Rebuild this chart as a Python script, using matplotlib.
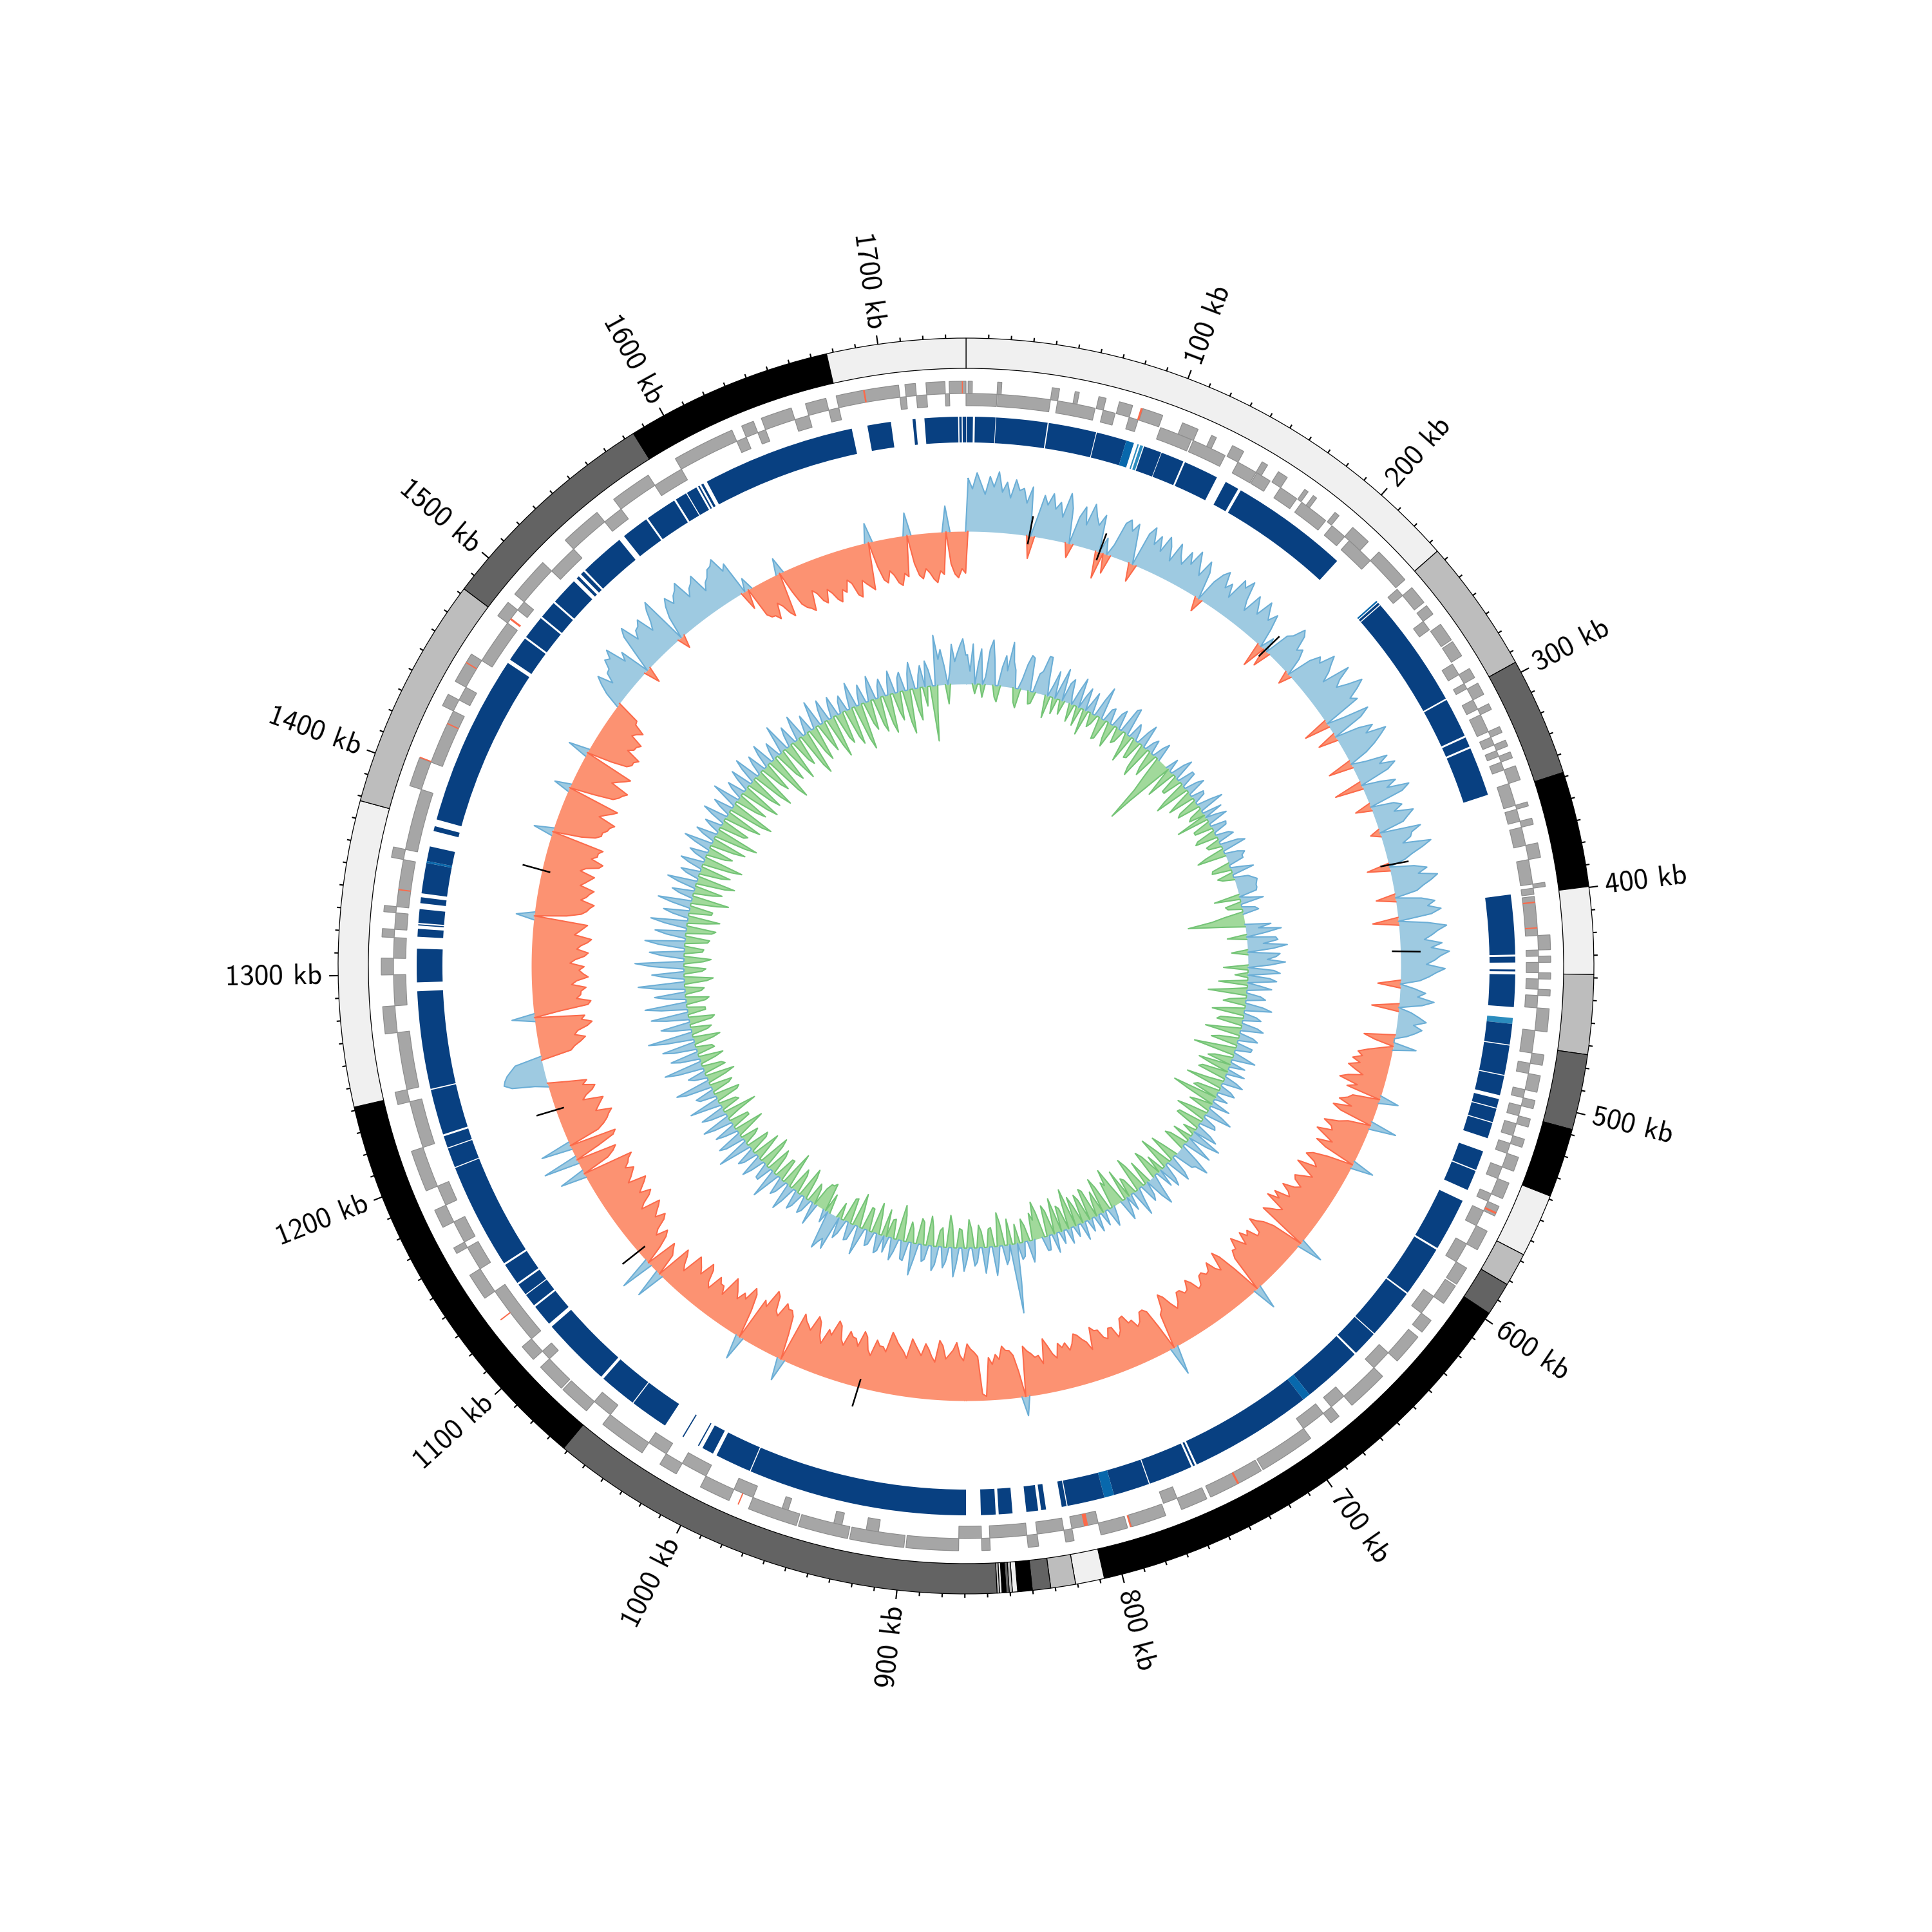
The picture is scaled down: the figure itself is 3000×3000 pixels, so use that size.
import numpy as np
import matplotlib.pyplot as plt

GENOME_KB = 1739

# contig ideogram (kb boundaries), colours cycle light -> black
SEG_BOUNDS = [0, 235, 295, 348, 399.6, 438.5, 474, 507.7, 538.6, 567, 582, 597,
              808, 820.9, 832, 840.2, 846.7, 849, 850.4, 851.8, 853.6, 854.7,
              855.8, 1062, 1241.5, 1378, 1482.6, 1584.5, 1677, 1739]
SEG_COLORS = ["#f0f0f0", "#bdbdbd", "#636363", "#000000"]

# CDS runs on forward (outer row) and reverse (inner row) strands, kb
FWD_GENES = [(1, 3), (15, 17), (41, 44.5), (52, 54), (63.5, 67), (73.5, 80), (85, 95),
             (105, 113), (120, 122.5), (131, 137), (147, 150), (156, 161), (171, 173),
             (176, 178), (189, 191.5), (200, 210), (217, 235), (240, 249), (251, 256),
             (262, 271), (272, 280), (287, 292), (295, 301), (306, 309), (318, 321),
             (325, 328), (331, 334), (338, 345), (356, 358), (364, 367), (376, 383),
             (395, 397), (420, 427), (430, 433), (438, 441), (446, 449), (455, 466),
             (477, 482), (487, 495), (499, 503), (508, 512), (518, 522), (527, 534),
             (540, 548), (552, 557), (565, 575), (585, 594), (595, 605), (615, 622),
             (625, 640), (650, 670), (678, 683), (695, 722), (723, 750), (752, 765),
             (773, 790), (792, 805), (818, 822), (835, 840), (858, 862), (873, 898),
             (899, 925), (926, 950), (951, 975), (985, 1000), (1013, 1022), (1032, 1055),
             (1065, 1080), (1081, 1095), (1100, 1108), (1137, 1150), (1162, 1165),
             (1176, 1185), (1195, 1215), (1238, 1244), (1272, 1285), (1300, 1308),
             (1318, 1322), (1330, 1333), (1356, 1361), (1391, 1405), (1432, 1438),
             (1445, 1460), (1482, 1490), (1495, 1515), (1530, 1550), (1560, 1580),
             (1595, 1625), (1630, 1636), (1640, 1655), (1662, 1672), (1677, 1707),
             (1710, 1715), (1720, 1729), (1731, 1739)]
REV_GENES = [(0, 15), (15.5, 41), (44.5, 63), (67, 73), (80, 84.5), (96, 112), (113, 130),
             (137, 147), (147.5, 155), (161, 170.5), (173.5, 188), (192, 200), (203, 217),
             (236, 240), (256, 261), (281, 287), (292, 294.8), (301, 306), (309, 318),
             (321, 325), (328, 331), (334, 338), (345, 356), (358, 364), (367, 376),
             (383, 395), (397, 400), (401, 420), (427, 430), (433, 438), (441, 446),
             (449, 455), (466, 477), (482, 487), (495, 499), (503, 508), (512, 518),
             (522, 527), (534, 540), (548, 552), (557, 565), (575, 585), (605, 615),
             (640, 650), (670, 678), (683, 695), (765, 772), (805, 818), (822, 835),
             (840, 858), (862, 873), (912, 918), (930, 934), (957, 960), (975, 985),
             (1000, 1013), (1022, 1032), (1055, 1065), (1095, 1100), (1108, 1137),
             (1150, 1162), (1165, 1176), (1185, 1195), (1215, 1238), (1244, 1272),
             (1285, 1300), (1308, 1318), (1322, 1330), (1333, 1356), (1361, 1391),
             (1405, 1432), (1438, 1445), (1460, 1482), (1490, 1495), (1515, 1530),
             (1550, 1560), (1580, 1595), (1625, 1630), (1636, 1640), (1655, 1662),
             (1672, 1677), (1707, 1710), (1715, 1720), (1729, 1731)]
# tRNA / rRNA features: (start kb, end kb, strand)
RNA_GENES = [(84, 85, 1), (403.5, 404.2, -1), (416, 416.6, -1), (555, 556, 1),
             (735, 736, 1), (790, 790.8, 1), (810, 812, -1), (980, 980.6, 1),
             (1124, 1124.6, 1), (1341, 1341.6, -1), (1405, 1405.6, 1),
             (1425, 1425.6, -1), (1455, 1455.6, 1), (1484, 1485, -1),
             (1690, 1690.8, 1), (1737, 1737.5, 1)]

# homology blocks: (start kb, end kb, shade index)
HIT_BLOCKS = [(0.3, 3.5, 0), (4.5, 14.9, 0), (15.2, 41.3, 0), (41.9, 66.2, 0),
              (66.6, 82, 0), (82, 86, 1), (87.9, 88.6, 2), (89.4, 90.9, 2),
              (91.4, 100.5, 0), (100.8, 112.6, 0), (113.5, 131.3, 0), (136.3, 143.5, 0),
              (145, 205.3, 0), (233.5, 234.3, 1), (234.8, 236, 0), (236.5, 294, 0),
              (294.8, 315, 0), (316, 321, 0), (322, 347, 0),
              (398.6, 429, 0), (430, 433, 0), (436.5, 437.5, 0), (439, 455.5, 0),
              (461, 464, 2), (464, 474.5, 0), (475, 490, 0), (490.5, 500.5, 0),
              (502.5, 507, 0), (507.5, 514.5, 0), (515, 523, 0), (530, 540, 0),
              (540.6, 551, 0), (557, 584, 0), (585, 611, 0), (611.8, 637.5, 0),
              (638, 651, 0), (652, 682.5, 0), (682.5, 686.5, 1), (686.5, 749.5, 0),
              (750.5, 751.5, 0), (752.5, 775, 0), (775.5, 794, 0), (794, 799, 1),
              (799, 818, 0), (818.5, 821, 0), (829, 831.5, 0), (833, 839, 0),
              (846, 853, 0), (854.5, 862, 0),
              (869.5, 981, 0), (981.5, 1000, 0), (1002, 1008, 0), (1010, 1010.6, 0),
              (1019, 1019.6, 0), (1030, 1049.5, 0), (1050, 1069, 0), (1070.5, 1106, 0),
              (1108, 1119, 0), (1120, 1126.5, 0), (1127, 1133, 0), (1134, 1145, 0),
              (1146, 1200, 0), (1200.5, 1210.5, 0), (1211, 1217, 0), (1218, 1241.2, 0),
              (1241.8, 1291.5, 0), (1296, 1313, 0), (1319, 1323, 0), (1324.7, 1325.3, 0),
              (1326, 1333, 0), (1336, 1339, 0), (1341, 1356.5, 0), (1356.5, 1357.5, 1),
              (1357.5, 1365, 0), (1373, 1375.5, 0), (1379, 1466, 0), (1468, 1481, 0),
              (1482, 1494, 0), (1495, 1504, 0), (1505, 1519, 0), (1521, 1522.5, 0),
              (1524, 1526, 0), (1527, 1550, 0), (1553, 1567, 0), (1568, 1584, 0),
              (1585, 1591, 0), (1591.5, 1597, 0), (1598, 1598.8, 0), (1599.8, 1601, 0),
              (1603, 1681, 0), (1689, 1701, 0), (1712, 1713.5, 0), (1718, 1735, 0),
              (1735.6, 1736.8, 0), (1737.3, 1739, 0)]
HIT_COLORS = ["#084081", "#0868ac", "#2b8cbe"]

# GC skew in 2.5 kb windows (x1000)
SKEW = [82, 66, 91, 74, 58, 86, 70, 94, 63, 79, 55, 84, 68, 72, 50, 76, -35, 30, 66, 52,
        71, 48, 60, 38, 77, 55, -22, 44, 62, 35, 70, 52, 40, 58, -42, 25, -30, 18, 56, 64,
        48, 62, 30, -28, 54, 67, 42, 58, 36, 63, 50, 29, 61, 44, 33, 57, 40, 65, 47, 31,
        59, 43, -22, 35, 52, 61, 37, 48, 28, 64, 55, 70, 41, 26, 58, 46, 34, 62, 49, 38,
        53, 30, -38, 22, -28, 40, 47, 66, 58, 35, 42, 28, -20, 39, 55, 48, 72, 60, 50, 34,
        78, 56, 45, 62, 84, 70, 52, 61, -40, 28, 67, 50, -30, 38, 59, 44, 75, 62, 48, 30,
        -38, 22, 56, 40, 63, 48, -44, 30, 52, 35, 69, 55, -25, 36, 47, 32, 61, 50, 40, -15,
        64, 48, 44, 30, 73, 58, 40, 26, -35, 38, 57, 42, 71, 60, 46, 35, -30, 40, 60, 48,
        68, 52, -40, 45, 74, 60, 50, 38, 65, 48, 76, 62, 53, 40, 69, 55, 44, 30, -35, 22,
        40, 28, 54, 36, -42, 20, 33, 45, 26, 40, 30, 18, -48, -30, 36, -20, -38, -52, -44, -58,
        -45, -62, -50, -36, -58, -70, -40, -55, 30, -42, -48, -60, -38, -66, -52, 42, -35, -48, -70, -56,
        -52, -75, -60, -44, -68, -50, 35, -40, -63, -72, -55, -48, -78, -62, -45, -58, -70, -66, -52, -60,
        -78, -64, -58, -82, -70, -88, -55, -62, -72, -80, 40, -50, -66, -74, -85, -60, -58, -76, -70, -82,
        -62, -74, -85, -68, -70, -58, 38, -46, -76, -88, -59, -66, -82, -70, -68, -75, -73, -60, -57, -72,
        -80, -66, -64, -72, -72, -58, -50, -62, -77, -84, -61, -55, 45, -40, -69, -75, -74, -60, -55, -68,
        -66, -80, -78, -60, -52, -70, -71, -56, -60, -74, -75, -82, -48, -62, -68, -76, -80, -66, -57, -70,
        -64, -72, -50, -58, -72, -84, -46, -60, -58, -65, -70, -78, 30, -40, -66, -74, -75, -82, -62, -70,
        -55, -66, -6, -10, -68, -75, -80, -88, -62, -70, -90, -78, -71, -64, -84, -92, -58, -66, -77, -85,
        -66, -74, -82, -90, -59, -68, -74, -80, -88, -95, -63, -70, -70, -78, -52, -60, -79, -86, -61, -72,
        -73, -80, -56, -64, -84, -90, -65, -72, -47, -58, -78, -85, -60, -66, -71, -80, 35, -40, -68, -76,
        -75, -82, -58, -64, -86, -92, -62, -70, 38, -45, -70, -78, -55, -62, -48, -58, -66, -74, -40, -52,
        -52, -60, -35, -42, -61, -68, -44, -52, -58, -64, -30, -38, -50, -58, 45, -35, -42, -50, 52, -30,
        -48, -56, -38, -46, -63, -70, -55, -62, -70, -76, -46, -54, -68, -75, -58, -66, -74, -80, -52, -60,
        -66, -72, -60, -68, -72, -80, 40, -45, -57, -64, 55, -40, -68, -74, 48, -50, -62, -70, -75, -82,
        -58, -64, -70, -76, -45, -52, -64, -70, -52, -60, -30, 20, 55, 66, 63, 58, 50, 42, -48, -55,
        -66, -74, -58, -64, -80, -88, -72, -78, 35, -40, -85, -90, -68, -75, -76, -84, -62, -70, -88, -80,
        -74, -82, -60, -68, -82, -88, -70, -76, -86, -92, -65, -72, -78, -84, 28, -50, -72, -80, -84, -90,
        -68, -76, -80, -86, -63, -70, -76, -82, -58, -66, -85, -90, -70, -78, -78, -84, 30, -45, -66, -74,
        -74, -80, -82, -88, -60, -68, -77, -84, 25, -40, -69, -76, -80, -86, -56, -64, -73, -80, 32, -40,
        -64, -70, -70, -76, -52, -60, -61, -66, -45, -50, -58, -40, -38, 25, 40, 52, 28, 44, 46, 60,
        55, 68, 35, 48, -25, 30, 62, 74, 44, 56, 58, 66, 38, 50, 67, 78, -20, 35, 52, 63,
        48, 58, 63, 72, 41, 52, 57, 66, 34, 45, 50, 60, 62, 70, 45, 54, -30, 20, -48, -55,
        -56, -64, -40, -48, -62, -70, 25, -35, -58, -66, -70, -76, -45, -52, -66, -72, -52, -60, -72, -78,
        -60, -66, -48, -55, -75, -80, -55, -62, -68, -74, 30, -40, -62, -68, -50, -58, -71, -76, -58, -64,
        35, -45, -64, -70, -55, -62, -72, -78, -60, -66, 40, -50, -66, -72, -58, -65]

# GC content deviation from genome mean, 2.5 kb windows (x1000)
GC_DEV = [45, 20, 62, -15, 30, 55, -20, 12, 55, 70, 38, -18, -25, 30, 48, 25, 70, 40, 28, -22,
          -30, 15, 40, 55, 52, -20, -18, 30, 35, 60, 60, 22, -35, 18, 42, -25, 25, 50, -22, 30,
          38, 12, -28, 25, 46, -30, 20, 35, -40, 15, 33, -22, -15, 28, 50, -35, -32, 20, 24, -26,
          -38, 22, 30, -25, -20, 40, 44, -18, -45, 25, 18, -32, -30, 22, 36, -40, -52, 15, 22, -28,
          -40, 18, 28, -35, -60, -113, -75, -40, 20, -25, -48, 22, 34, -30, -30, 25, 25, -38, -55, 20,
          30, -25, -42, 20, 18, -30, -36, 22, 40, -20, -25, 30, -50, 18, 32, -28, -28, 24, 22, -30,
          -35, 20, 26, -22, -20, 28, 38, -30, -45, 20, 30, 24, 24, -28, -30, 18, 35, -25, -18, 22,
          28, 34, 32, 30, 30, 28, -40, 15, 36, -25, -22, 20, 25, -30, -50, -88, -60, -30, 40, 20,
          55, 30, -30, 45, 48, 25, 62, 40, -25, 50, 44, 30, 58, 35, -38, 40, 50, -20, 34, 45,
          -45, 20, 38, -30, -60, 22, 30, -25, -35, 28, 42, -30, -50, 20, 28, -35, -40, 25, 35, -28,
          -55, 22, 30, -30, -42, 25, 24, -35, -65, 18, 36, -28, -38, 24, -50, -30, 28, -40, -45, 20,
          32, -25, -58, 18, 26, -35, -40, 20, -70, -45, 30, -22, -35, 25, 42, -30, -48, 22, 25, -38,
          -40, 25, 38, -20, 50, 30, -30, 22, 45, -28, -36, 30, 55, 35, 32, -25, -44, 28, 40, -30,
          -52, 25, 36, -28, 28, -35, -46, 20, 48, 30, -38, 22, 30, -40, -55, 18, 42, -25, -30, 25,
          -48, 20, 34, -30, -60, -35, -42, 18, 30, -40, -56, 22, -38, -25, 26, -45, -50, 20, -35, -45,
          28, -30, -46, 18, -62, -40, 24, -35, -40, 20, -55, -30, 30, -38, -48, 22, 22, -40, -58, -30,
          -42, 20, 34, -25, -36, 22, 26, -30, 60, 108, -40, 22, 30, -35, -52, 25, 45, -30, -28, 20,
          40, -25, -35, 22, 28, -30, -44, 20, 36, -28, -30, 25, 45, -35, -50, 22, 32, -30, -25, 28,
          38, -30, -46, 22, 26, -35, -40, 25, 50, -22, -32, 30, 28, -40, -55, 20, 34, -30, -28, 25,
          -42, 25, 30, -30, -48, 20, 24, -35, -36, 22, 44, -30, -52, 25, 28, -40, -38, 22, 32, -25,
          55, 40, 48, 60, -30, 20, -45, -40, -40, -30, 35, -25, -32, 20, 26, -35, -48, 22, 30, -30,
          -38, 25, 42, -28, -55, 20, 28, -35, -34, 22, 46, -30, -40, 25, 24, -38, -50, 22, 36, -25,
          -44, 22, 30, -30, -36, 25, 52, -20, -28, 30, 40, -25, -46, 20, 34, -30, -30, 28, 45, -22,
          -52, 25, 38, -30, -26, 22, 48, -35, -40, 25, 30, -28, -35, 40, 55, -30, -45, 20, 28, -35,
          -30, 40, 60, -25, -38, 30, 44, -28, -25, 35, 52, -30, -42, 45, 70, -25, -32, 30, 46, -35,
          -40, 35, 58, -28, -28, 40, 65, -30, -36, 30, 48, -25, -30, 45, 72, -35, -45, 30, 50, -28,
          -34, 50, 76, -30, -42, 35, 54, -28, -30, 40, 62, -35, -38, 30, 48, -40, -46, 35, 57, -30,
          -50, 25, 40, -35, -36, 30, 52, -40, -58, 22, 34, -30, -44, 28, 46, -45, -60, 20, 30, -35,
          -48, 22, 36, -45, -62, 18, 28, -30, -40, 25, 44, -38, -55, 20, 32, -50, -68, 15, 26, -40,
          -45, 22, 38, -40, -58, 18, 30, -55, -70, 20, 42, -35, -50, 18, 28, -45, -62, 20, 34, -40,
          -56, 25, 40, -48, -66, 18, 30, -35, -48, 22, 36, -60, -75, 15, 26, -40, -52, 20, 44, -35,
          -60, 18, 30, -35, -45, 22, 38, -55, -70, 15, 28, -40, -55, 20, 42, -30, -48, 22, 35, -45,
          -65, 20, 32, -40, -50, 18, 26, -45, -58, 22, 40, -55, -72, 18, 30, -35, -46, 22, 38, -42,
          -54, 18, 28, -45, -60, 20, 36, -30, -44, 22, 30, -50, -68, 25, 42, -35, -50, 20, 34, -30,
          40, 25, -86, -40, 78, 40, 55, 30, -30, 20, 62, 35, 48, 60, 70, 45]

# assembly gaps shown in the skew track (kb)
N_GAPS = [40.6, 86.5, 210, 370, 425.6, 939, 1106, 1211, 1366]

WIN_KB = 2.5
assert len(SKEW) == len(GC_DEV) == 696

# radii in pixels (axes r-limit = half the figure)
R_RING = (928, 975)
R_FWD = (889, 908)
R_REV = (870, 889)
R_HIT = (813, 853)
SKEW_BASE = 675
GC_BASE = 438


def kb2rad(kb):
    return np.asarray(kb, dtype=float) / GENOME_KB * 2 * np.pi


fig = plt.figure(figsize=(10, 10), dpi=300)
ax = fig.add_axes([0, 0, 1, 1], projection="polar")
ax.set_theta_zero_location("N")
ax.set_theta_direction(-1)
ax.set_ylim(0, 1500)
ax.axis("off")

# outer ideogram ring
for i in range(len(SEG_BOUNDS) - 1):
    a, b = SEG_BOUNDS[i], SEG_BOUNDS[i + 1]
    ax.bar(kb2rad(a), R_RING[1] - R_RING[0], width=kb2rad(b - a), bottom=R_RING[0],
           align="edge", color=SEG_COLORS[i % 4], edgecolor="black", linewidth=0.3)

# ticks + labels
for k in range(10, GENOME_KB, 10):
    th = kb2rad(k)
    ln = 14 if k % 100 == 0 else 6
    ax.plot([th, th], [R_RING[1], R_RING[1] + ln], color="black", lw=0.5,
            solid_capstyle="butt")
    if k % 100 == 0:
        deg = np.degrees(th)
        if deg < 180:
            rot, ha = 90 - deg, "left"
        else:
            rot, ha = 270 - deg, "right"
        ax.text(th, 1000, f"{k} kb", rotation=rot, rotation_mode="anchor",
                ha=ha, va="center", fontsize=10.8, family="cmss10")

# genes
for genes, rr in ((FWD_GENES, R_FWD), (REV_GENES, R_REV)):
    for a, b in genes:
        ax.bar(kb2rad(a), rr[1] - rr[0], width=kb2rad(b - a), bottom=rr[0],
               align="edge", color="#a6a6a6", edgecolor="#8e8e8e", linewidth=0.3)
for a, b, s in RNA_GENES:
    rr = R_FWD if s > 0 else R_REV
    ax.bar(kb2rad(a), rr[1] - rr[0], width=kb2rad(b - a), bottom=rr[0],
           align="edge", color="#fb6a4a", linewidth=0)

# homology blocks
for a, b, c in HIT_BLOCKS:
    ax.bar(kb2rad(a), R_HIT[1] - R_HIT[0], width=kb2rad(b - a), bottom=R_HIT[0],
           align="edge", color=HIT_COLORS[c], linewidth=0)


def signal(vals, base, pos_cols, neg_cols):
    v = np.asarray(vals, dtype=float)
    pos = np.arange(len(v)) * WIN_KB + WIN_KB / 2
    v = np.append(v, v[0])
    pos = np.append(pos, pos[0] + GENOME_KB)
    th = kb2rad(pos)
    for part, cols in ((np.where(v > 0, v, 0), pos_cols),
                       (np.where(v < 0, v, 0), neg_cols)):
        ax.fill_between(th, base, base + part, color=cols[0], lw=0)
        zero = part == 0
        keep = ~(zero & np.roll(zero, 1) & np.roll(zero, -1))
        line = np.where(keep, base + part, np.nan)
        ax.plot(th, line, color=cols[1], lw=0.5)


signal(SKEW, SKEW_BASE, ("#9ecae1", "#6baed6"), ("#fc9272", "#fb6a4a"))
signal(GC_DEV, GC_BASE, ("#9ecae1", "#6baed6"), ("#a1d99b", "#74c476"))

for g in N_GAPS:
    ax.plot(kb2rad([g - 0.4, g + 0.4]), [SKEW_BASE - 12, SKEW_BASE + 30],
            color="black", lw=0.6)

fig.savefig("out.png", dpi=300)
